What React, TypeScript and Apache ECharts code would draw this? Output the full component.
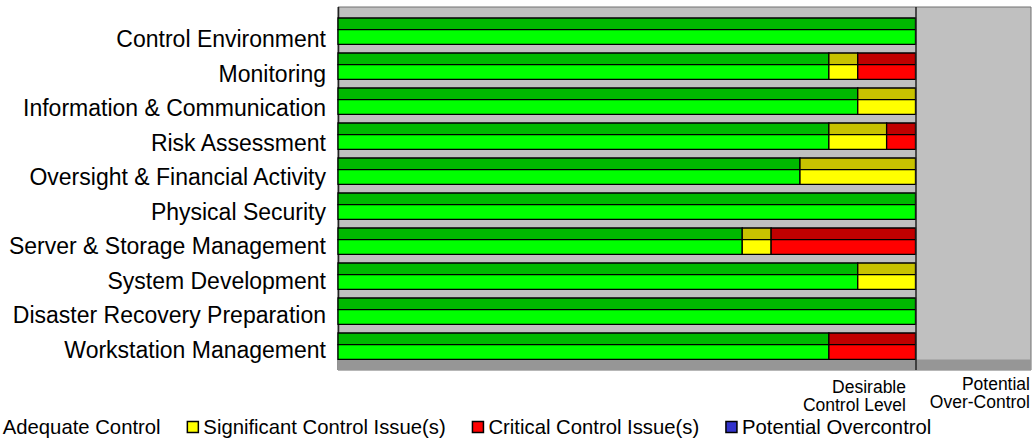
import React, { useEffect, useRef } from "react";
import * as echarts from "echarts";

const categories = [
  "Control Environment",
  "Monitoring",
  "Information & Communication",
  "Risk Assessment",
  "Oversight & Financial Activity",
  "Physical Security",
  "Server & Storage Management",
  "System Development",
  "Disaster Recovery Preparation",
  "Workstation Management",
];
const adequate = [1.0, 0.85, 0.9, 0.85, 0.8, 1.0, 0.7, 0.9, 1.0, 0.85];
const significant = [0, 0.05, 0.1, 0.1, 0.2, 0, 0.05, 0.1, 0, 0];
const critical = [0, 0.1, 0, 0.05, 0, 0, 0.25, 0, 0, 0.15];
const overcontrol = [0, 0, 0, 0, 0, 0, 0, 0, 0, 0];

const seriesDefs = [
  { name: "Adequate Control", values: adequate, front: "#00ff00", top: "#00b800" },
  { name: "Significant Control Issue(s)", values: significant, front: "#ffff00", top: "#c8c200" },
  { name: "Critical Control Issue(s)", values: critical, front: "#ff0000", top: "#c00000" },
  { name: "Potential Overcontrol", values: overcontrol, front: "#3333cc", top: "#222299" },
];

const FONT = "'Liberation Sans', Arial, sans-serif";

export default function App() {
  const ref = useRef<HTMLDivElement>(null);
  useEffect(() => {
    if (!ref.current) return;
    const chart = echarts.init(ref.current, undefined, { renderer: "svg" });
    const cum = categories.map(() => 0);
    const series: any[] = seriesDefs.map((d) => {
      const data: any[] = [];
      d.values.forEach((v, i) => {
        const s = cum[i];
        cum[i] += v;
        if (v > 0) data.push([s, s + v, i]);
      });
      return {
        type: "custom",
        name: d.name,
        xAxisIndex: 1,
        yAxisIndex: 1,
        itemStyle: { color: d.front },
        data,
        renderItem: (params: any, api: any) => {
          const s = api.value(0);
          const e = api.value(1);
          const c = api.value(2);
          const p0 = api.coord([s, c]);
          const p1 = api.coord([e, c]);
          const band = api.size([0, 1])[1];
          const yTop = p0[1] - 0.379 * band;
          const topH = 0.33 * band;
          const frontH = 0.425 * band;
          const w = p1[0] - p0[0];
          return {
            type: "group",
            children: [
              {
                type: "rect",
                shape: { x: p0[0], y: yTop, width: w, height: topH },
                style: { fill: d.top, stroke: "#000", lineWidth: 1.3 },
              },
              {
                type: "rect",
                shape: { x: p0[0], y: yTop + topH, width: w, height: frontH },
                style: { fill: d.front, stroke: "#000", lineWidth: 1.3 },
              },
            ],
          };
        },
      };
    });
    series.push({
      type: "line",
      name: "wall",
      xAxisIndex: 0,
      yAxisIndex: 0,
      data: [],
      markLine: {
        silent: true,
        symbol: "none",
        label: { show: false },
        lineStyle: { color: "#222", width: 1.5, type: "solid" },
        data: [{ xAxis: 1 }],
      },
      markArea: {
        silent: true,
        itemStyle: { color: "#969696" },
        data: [[{ yAxis: 0, xAxis: 0 }, { yAxis: 0.029, xAxis: 1.2 }]],
      },
    });

    const txt = (text: string, x: number, y: number) => ({
      type: "text",
      x,
      y,
      style: {
        text,
        align: "right",
        verticalAlign: "middle",
        fontSize: 17.5,
        lineHeight: 18,
        fill: "#000",
        fontFamily: FONT,
      },
    });

    chart.setOption({
      animation: false,
      backgroundColor: "#ffffff",
      grid: [
        {
          left: 338,
          right: 3,
          top: 7,
          bottom: 75,
          show: true,
          backgroundColor: "#c0c0c0",
          borderColor: "#707070",
          borderWidth: 1,
        },
        { left: 338, right: 3, top: 13.75, height: 350 },
        { left: 338, right: 3, top: 21.7, height: 345.6 },
      ],
      xAxis: [
        { type: "value", gridIndex: 0, min: 0, max: 1.2, show: false },
        { type: "value", gridIndex: 1, min: 0, max: 1.2, show: false },
        { type: "value", gridIndex: 2, min: 0, max: 1.2, show: false },
      ],
      yAxis: [
        { type: "value", gridIndex: 0, min: 0, max: 1, show: false },
        {
          type: "category",
          gridIndex: 1,
          data: categories,
          inverse: true,
          axisLine: { show: false },
          axisTick: { show: false },
          axisLabel: { show: false },
        },
        {
          type: "category",
          gridIndex: 2,
          data: categories,
          inverse: true,
          axisLine: { show: false },
          axisTick: { show: false },
          axisLabel: { margin: 12, fontSize: 23, color: "#000", fontFamily: FONT },
        },
      ],
      legend: {
        data: seriesDefs.map((d) => d.name),
        left: -19,
        top: 412,
        itemWidth: 11,
        itemHeight: 11,
        itemGap: 26,
        icon: "rect",
        selectedMode: false,
        itemStyle: { borderColor: "#000", borderWidth: 1.5 },
        textStyle: { fontSize: 20.3, color: "#000", fontFamily: FONT },
      },
      graphic: [
        {
          type: "line",
          shape: { x1: 338.5, y1: 7, x2: 338.5, y2: 370 },
          style: { stroke: "#222", lineWidth: 1.5 },
        },
        txt("Desirable\nControl Level", 906, 396),
        txt("Potential\nOver-Control", 1030, 393),
      ],
      series,
    });
    return () => chart.dispose();
  }, []);
  return <div ref={ref} style={{ width: 1034, height: 445, position: "absolute", left: 0, top: 0 }} />;
}
